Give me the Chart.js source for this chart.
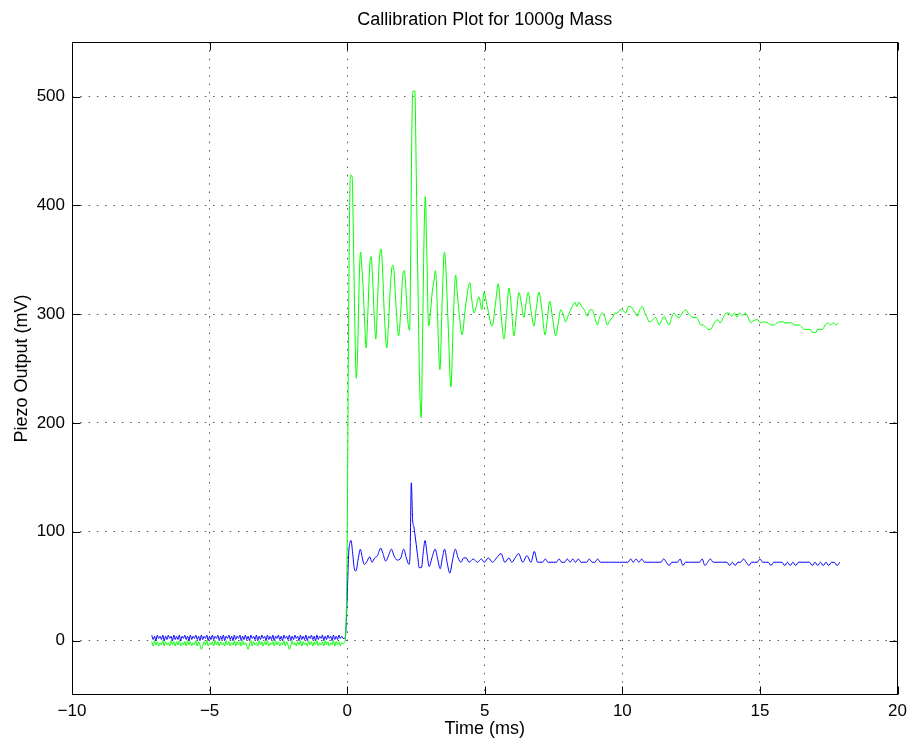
<!DOCTYPE html>
<html>
<head>
<meta charset="utf-8">
<script src="https://cdn.jsdelivr.net/npm/chart.js@4.4.1/dist/chart.umd.min.js"></script>
<style>
  body { margin: 0; background: #fff; }
  #wrap { width: 913px; height: 745px; }
</style>
</head>
<body>
<div id="wrap"><canvas id="calPlot" width="913" height="745"></canvas></div>
<script>
const xTicks = [-10, -5, 0, 5, 10, 15, 20];
const yTicks = [0, 100, 200, 300, 400, 500];

// baseline before the mass hits, one sample every 0.05 ms from preStart
const preStart = -7.1;
const preStep = 0.05;
const greenPre = [
  -1, -5, 0, -4, -1, -5, -2, -4, 0, -5,
  -1, -4, -2, -5, 0, -4, -1, -5, -1, -4,
  0, -5, -2, -4, -1, -5, 0, -4, -1, -5,
  -2, -4, 0, -5, -1, -4, -8, -5, -1, -4,
  0, -5, -2, -4, -1, -5, 0, -4, -1, -5,
  -1, -4, -2, -5, 0, -4, -1, -5, -2, -4,
  0, -5, -1, -4, -1, -5, 0, -4, -2, -5,
  -8, -4, 0, -5, -1, -4, -2, -5, 0, -4,
  -1, -5, -1, -4, 0, -5, -2, -4, -1, -5,
  0, -4, -1, -5, -2, -4, 0, -5, -1, -4,
  -8, -5, 0, -4, -2, -5, -1, -4, 0, -5,
  -1, -4, -2, -5, 0, -4, -1, -5, -1, -4,
  0, -5, -2, -4, -1, -5, 0, -4, -1, -5,
  -2, -4, 0, -5, -1, -4, -1, -5, -2, -3
];
const bluePre = [
  5, 1, 4, 0, 5, 2, 4, 1, 5, 0,
  4, 1, 5, 2, 4, 0, 5, 1, 4, 1,
  5, 0, 4, 2, 5, 1, 4, 0, 5, 1,
  4, 2, 5, 1, 4, 0, 5, 1, 4, 2,
  5, 0, 4, 1, 5, 1, 4, 2, 5, 0,
  4, 1, 5, 0, 4, 2, 5, 1, 4, 0,
  5, 1, 4, 2, 5, 0, 4, 1, 5, 1,
  4, 0, 5, 2, 4, 1, 5, 0, 4, 1,
  5, 2, 4, 0, 5, 1, 4, 1, 5, 0,
  4, 2, 5, 1, 4, 0, 5, 2, 4, 1,
  5, 0, 4, 1, 5, 2, 4, 0, 5, 1,
  4, 1, 5, 0, 4, 2, 5, 1, 4, 0,
  5, 1, 4, 2, 5, 0, 4, 1, 5, 2,
  4, 0, 5, 1, 4, 1, 5, 2, 4, 2
];

// green trace after impact (ms, mV)
const greenT = [
  -0.1, -0.05, 0.0, 0.05, 0.1, 0.13, 0.18, 0.22, 0.28, 0.33,
  0.38, 0.44, 0.49, 0.54, 0.58, 0.64, 0.69, 0.75, 0.82, 0.87,
  0.92, 0.98, 1.04, 1.1, 1.17, 1.23, 1.28, 1.35, 1.44, 1.5,
  1.58, 1.65, 1.7, 1.78, 1.87, 1.94, 2.02, 2.08, 2.13, 2.2,
  2.27, 2.31, 2.35, 2.39, 2.46, 2.51, 2.57, 2.63, 2.69, 2.74,
  2.8, 2.84, 2.89, 2.96, 3.02, 3.09, 3.15, 3.21, 3.27, 3.32,
  3.37, 3.45, 3.53, 3.57, 3.67, 3.77, 3.85, 3.94, 4.0, 4.07,
  4.18, 4.27, 4.37, 4.46, 4.52, 4.61, 4.7, 4.79, 4.89, 4.97,
  5.09, 5.27, 5.39, 5.49, 5.59, 5.7, 5.79, 5.88, 5.97, 6.06,
  6.15, 6.24, 6.33, 6.42, 6.5, 6.58, 6.67, 6.79, 6.87, 6.97,
  7.07, 7.19, 7.27, 7.36, 7.47, 7.58, 7.67, 7.76, 7.85, 7.93,
  8.05, 8.18, 8.27, 8.35, 8.42, 8.52, 8.62, 8.73, 8.82, 8.91,
  9.0, 9.09, 9.17, 9.27, 9.37, 9.45, 9.54, 9.64, 9.73, 9.82,
  9.92, 10.0, 10.12, 10.22, 10.3, 10.39, 10.47, 10.55, 10.63, 10.73,
  10.82, 10.9, 10.97, 11.07, 11.21, 11.27, 11.33, 11.42, 11.52, 11.6,
  11.7, 11.79, 11.88, 11.97, 12.07, 12.17, 12.3, 12.39, 12.49, 12.57,
  12.67, 12.77, 12.85, 12.94, 13.03, 13.12, 13.21, 13.3, 13.37, 13.45,
  13.55, 13.67, 13.77, 13.88, 13.97, 14.07, 14.17, 14.24, 14.37, 14.47,
  14.57, 14.67, 14.77, 14.91, 15.02, 15.12, 15.27, 15.42, 15.52, 15.62,
  15.72, 15.82, 15.92, 16.02, 16.12, 16.27, 16.42, 16.52, 16.61, 16.72,
  16.82, 16.92, 17.03, 17.09, 17.17, 17.27, 17.37, 17.47, 17.57, 17.67,
  17.77, 17.85
];
const greenV = [
  -2, 8, 90, 290, 415, 428, 426, 380, 290, 241,
  265, 335, 357, 340, 324, 290, 269, 300, 345, 353,
  335, 300, 277, 310, 350, 360, 345, 300, 269, 290,
  330, 345, 340, 305, 280, 300, 335, 340, 325, 295,
  285, 360, 470, 505, 505, 430, 330, 240, 205, 280,
  380, 408, 360, 289, 300, 320, 330, 340, 310, 270,
  249, 310, 357, 350, 290, 233, 290, 336, 320, 300,
  281, 300, 320, 329, 315, 301, 308, 316, 304, 320,
  307, 289, 310, 328, 300, 277, 300, 324, 305, 280,
  300, 320, 310, 297, 310, 320, 305, 289, 305, 320,
  305, 281, 295, 312, 295, 280, 292, 304, 300, 293,
  300, 307, 311, 307, 311, 307, 304, 298, 304, 304,
  297, 290, 297, 301, 297, 290, 294, 297, 301, 301,
  304, 304, 301, 307, 307, 304, 301, 298, 304, 307,
  301, 297, 293, 294, 297, 294, 290, 294, 298, 294,
  290, 297, 301, 298, 297, 301, 304, 301, 298, 297,
  297, 294, 290, 290, 288, 286, 286, 290, 293, 295,
  292, 297, 301, 301, 298, 301, 297, 301, 299, 301,
  297, 292, 294, 295, 292, 293, 292, 290, 290, 292,
  293, 293, 292, 292, 292, 290, 290, 288, 286, 286,
  286, 283, 283, 286, 286, 286, 290, 292, 290, 292,
  290, 292
];

// blue trace after impact (ms, mV)
const blueT = [
  -0.1, -0.05, 0.0, 0.05, 0.1, 0.14, 0.2, 0.26, 0.32, 0.4,
  0.48, 0.55, 0.62, 0.7, 0.82, 0.9, 1.0, 1.1, 1.22, 1.3,
  1.4, 1.5, 1.61, 1.7, 1.82, 1.95, 2.05, 2.15, 2.25, 2.29,
  2.33, 2.38, 2.42, 2.47, 2.55, 2.62, 2.7, 2.76, 2.83, 2.9,
  2.98, 3.08, 3.2, 3.28, 3.38, 3.46, 3.54, 3.63, 3.73, 3.83,
  3.93, 4.03, 4.14, 4.23, 4.32, 4.43, 4.58, 4.73, 4.88, 4.98,
  5.13, 5.28, 5.43, 5.59, 5.73, 5.88, 5.98, 6.08, 6.23, 6.38,
  6.53, 6.68, 6.8, 6.92
];
const blueV = [
  2, 8, 40, 78, 90, 92, 80, 66, 64, 75,
  84, 76, 70, 72, 77, 72, 76, 78, 85, 80,
  73, 78, 84, 78, 74, 76, 84, 76, 70, 84,
  145, 110, 105, 96, 80, 67, 67, 80, 92, 80,
  68, 76, 84, 76, 66, 76, 84, 72, 62, 74,
  84, 76, 72, 76, 76, 72, 75, 72, 75, 72,
  76, 72, 76, 80, 72, 76, 72, 75, 80, 72,
  78, 72, 82, 72
];

// blue settles, one sample every 0.1 ms from blueTailStart
const blueTailStart = 7.0;
const blueTail = [
  72, 72, 75, 72, 72, 72, 72, 75, 72, 72,
  75, 72, 75, 72, 75, 72, 72, 72, 75, 72,
  72, 75, 72, 72, 72, 72, 72, 72, 72, 72,
  72, 72, 72, 75, 72, 75, 72, 75, 72, 72,
  72, 72, 72, 72, 72, 75, 72, 69, 72, 72,
  72, 75, 69, 72, 72, 72, 72, 72, 72, 75,
  69, 72, 75, 72, 72, 72, 72, 72, 72, 69,
  72, 69, 72, 72, 75, 72, 69, 72, 72, 72,
  75, 72, 72, 72, 69, 72, 72, 72, 72, 69,
  72, 69, 72, 69, 72, 72, 72, 72, 72, 69,
  72, 69, 72, 69, 72, 69, 72, 72, 69, 72
];

function buildPoints(pre, t, v, tailStart, tail) {
  const pts = [];
  pre.forEach((y, i) => pts.push({ x: +(preStart + i * preStep).toFixed(2), y }));
  t.forEach((x, i) => pts.push({ x, y: v[i] }));
  if (tail) tail.forEach((y, i) => pts.push({ x: +(tailStart + i * 0.1).toFixed(2), y }));
  return pts;
}

const font = 'Liberation Sans, Arial, Helvetica, sans-serif';

// box round the axes with inward tick marks on all four sides
const matlabFrame = {
  id: 'matlabFrame',
  afterDraw(chart) {
    const { ctx, chartArea: a, scales: { x, y } } = chart;
    const L = Math.round(a.left) + 0.5, R = Math.round(a.right) - 0.5;
    const T = Math.round(a.top) + 0.5, B = Math.round(a.bottom) - 0.5;
    ctx.save();
    ctx.strokeStyle = '#000';
    ctx.lineWidth = 1;
    ctx.beginPath();
    xTicks.forEach(v => {
      const px = Math.round(x.getPixelForValue(v)) + 0.5;
      ctx.moveTo(px, B); ctx.lineTo(px, B - 8);
      ctx.moveTo(px, T); ctx.lineTo(px, T + 8);
    });
    yTicks.forEach(v => {
      const py = Math.round(y.getPixelForValue(v)) + 0.5;
      ctx.moveTo(L, py); ctx.lineTo(L + 8, py);
      ctx.moveTo(R, py); ctx.lineTo(R - 8, py);
    });
    ctx.stroke();
    ctx.strokeRect(L, T, R - L, B - T);
    ctx.restore();
  }
};

new Chart(document.getElementById('calPlot'), {
  type: 'line',
  data: {
    datasets: [
      {
        label: 'green',
        data: buildPoints(greenPre, greenT, greenV),
        borderColor: '#00ff00',
        borderWidth: 1,
        pointRadius: 0,
        cubicInterpolationMode: 'monotone',
        fill: false
      },
      {
        label: 'blue',
        data: buildPoints(bluePre, blueT, blueV, blueTailStart, blueTail),
        borderColor: '#0000ff',
        borderWidth: 1,
        pointRadius: 0,
        cubicInterpolationMode: 'monotone',
        fill: false
      }
    ]
  },
  options: {
    responsive: false,
    animation: false,
    layout: { padding: { left: 0, right: 13, top: 0, bottom: 0 } },
    plugins: {
      legend: { display: false },
      tooltip: { enabled: false },
      title: {
        display: true,
        text: 'Callibration Plot for 1000g Mass',
        fullSize: false,
        color: '#000',
        font: { family: font, size: 18, weight: 'normal' },
        padding: { top: 9, bottom: 11.5 }
      }
    },
    scales: {
      x: {
        type: 'linear',
        min: -10,
        max: 20,
        afterBuildTicks: s => { s.ticks = xTicks.map(value => ({ value })); },
        afterFit: s => { s.height = 50; },
        grid: { color: '#555', drawTicks: false },
        border: { display: false, dash: [1.5, 6.8] },
        ticks: {
          color: '#000',
          padding: 6,
          maxRotation: 0,
          font: { family: font, size: 17 },
          callback: v => String(v).replace('-', '\u2212')
        },
        title: {
          display: true,
          text: 'Time (ms)',
          color: '#000',
          font: { family: font, size: 18 },
          padding: { top: 0, bottom: 5 }
        }
      },
      y: {
        type: 'linear',
        min: -50,
        max: 550,
        afterBuildTicks: s => { s.ticks = yTicks.map(value => ({ value })); },
        afterFit: s => { s.width = 72; },
        grid: { color: '#555', drawTicks: false },
        border: { display: false, dash: [1.5, 6.8] },
        ticks: {
          color: '#000',
          padding: 7,
          font: { family: font, size: 17 }
        },
        title: {
          display: true,
          text: 'Piezo Output (mV)',
          color: '#000',
          font: { family: font, size: 18 },
          padding: { top: 11, bottom: 0 }
        }
      }
    }
  },
  plugins: [matlabFrame]
});
</script>
</body>
</html>
